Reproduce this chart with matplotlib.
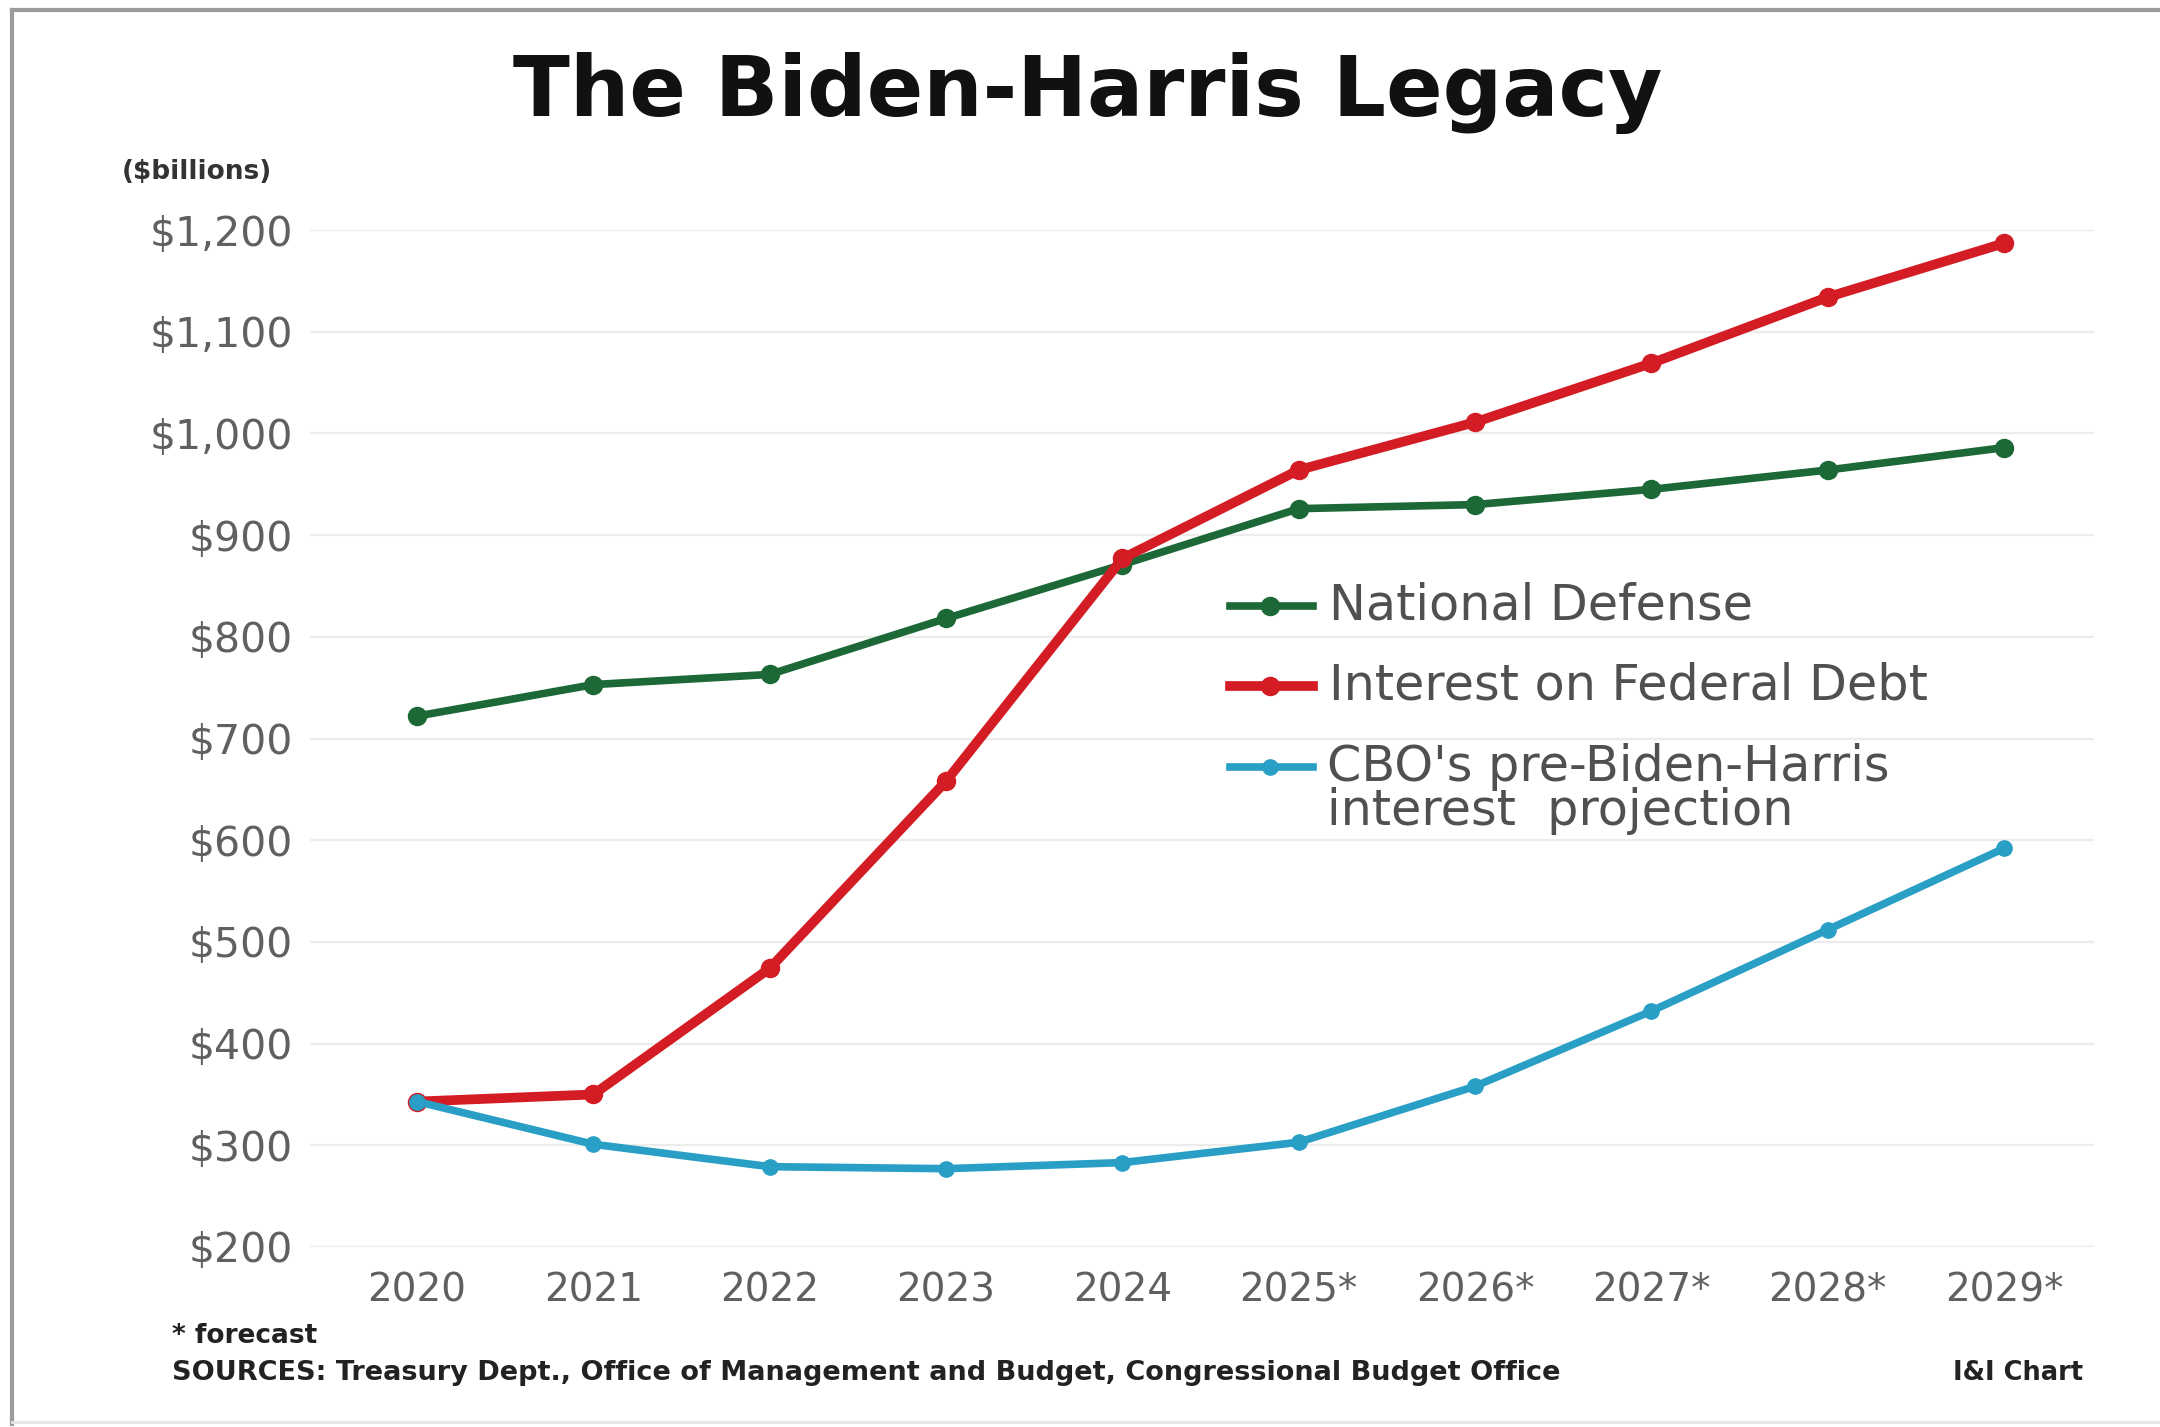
import numpy as np
import matplotlib
matplotlib.use("Agg")
import matplotlib.pyplot as plt
from matplotlib.lines import Line2D
from matplotlib.ticker import FuncFormatter

# spending in $ billions, fiscal years (* = forecast)
years = ["2020", "2021", "2022", "2023", "2024", "2025*", "2026*", "2027*", "2028*", "2029*"]
defense = [722, 753, 763, 818, 871, 926, 930, 945, 964, 986]
interest = [343, 350, 474, 658, 877, 964, 1011, 1069, 1134, 1187]
cbo_projection = [343, 301, 279, 277, 283, 303, 358, 432, 512, 592]
y_ticks = [200, 300, 400, 500, 600, 700, 800, 900, 1000, 1100, 1200]

series_labels = ["National Defense", "Interest on Federal Debt",
                 "CBO's pre-Biden-Harris\ninterest  projection"]

GREEN = "#1c6837"
RED = "#d41c24"
BLUE = "#2a9fc6"

W, H = 2160, 1427
plt.rcParams["font.family"] = ["DejaVu Sans"]

fig = plt.figure(figsize=(W / 100, H / 100), dpi=100)
fig.patch.set_facecolor("white")

ax = fig.add_axes([310 / W, 1 - 1247 / H, (2094 - 310) / W, (1247 - 230) / H])
x = np.arange(len(years))

ax.plot(x, defense, color=GREEN, lw=5.5, marker="o", ms=13, clip_on=False, zorder=3)
ax.plot(x, interest, color=RED, lw=7, marker="o", ms=13, clip_on=False, zorder=4)
ax.plot(x, cbo_projection, color=BLUE, lw=5.5, marker="o", ms=11, clip_on=False, zorder=5)

ax.set_xlim(-0.607, 9.51)
ax.set_ylim(200, 1200)
ax.set_xticks(x)
ax.set_xticklabels(years)
ax.set_yticks(y_ticks)
ax.yaxis.set_major_formatter(FuncFormatter(lambda v, _: f"${v:,.0f}"))
ax.tick_params(axis="both", length=0, colors="#606060")
ax.tick_params(axis="y", labelsize=29.5, pad=12)
ax.tick_params(axis="x", labelsize=28, pad=18)
ax.grid(axis="y", color="#ececec", lw=1.6)
ax.set_axisbelow(True)
for s in ax.spines.values():
    s.set_visible(False)

# title and units
fig.text(1088 / W, 1 - 116 / H, "The Biden-Harris Legacy", ha="center", va="baseline",
         fontsize=60, fontweight="bold", color="#111111")
fig.text(122 / W, 1 - 172 / H, "($billions)", ha="left", va="center",
         fontsize=19, fontweight="bold", color="#333333")

# hand-placed key: (colour, key row y, text x, text y, line width, marker size)
key_rows = [(GREEN, 606, 1329, 606, 5.5, 13),
            (RED, 686, 1329, 686, 7, 13),
            (BLUE, 767, 1327, 789, 5.5, 11)]
for (color, ypx, tx, ty, lw, ms), label in zip(key_rows, series_labels):
    yf = 1 - ypx / H
    fig.add_artist(Line2D([1230 / W, 1313 / W], [yf, yf], color=color, lw=lw))
    fig.add_artist(Line2D([1270 / W], [yf], color=color, marker="o", ms=ms, lw=0))
    fig.text(tx / W, 1 - ty / H, label, ha="left", va="center", fontsize=35.5,
             color="#505050", linespacing=0.92)

# footer
fig.text(172 / W, 1 - 1336 / H, "* forecast", ha="left", va="center",
         fontsize=19, fontweight="bold", color="#222222")
fig.text(172 / W, 1 - 1373 / H,
         "SOURCES: Treasury Dept., Office of Management and Budget, Congressional Budget Office",
         ha="left", va="center", fontsize=19.5, fontweight="bold", color="#222222")
fig.text(2083 / W, 1 - 1373 / H, "I&I Chart", ha="right", va="center",
         fontsize=18.5, fontweight="bold", color="#222222")

# frame edges
fig.add_artist(Line2D([12 / W, 1], [1 - 10 / H, 1 - 10 / H], color="#9c9c9c", lw=3))
fig.add_artist(Line2D([12 / W, 12 / W], [1 - 10 / H, 1 - 1424 / H], color="#9c9c9c", lw=3))
fig.add_artist(Line2D([12 / W, 1], [1 - 1422 / H, 1 - 1422 / H], color="#e6e6e6", lw=2))

fig.savefig("out.png", dpi=100, facecolor="white")
